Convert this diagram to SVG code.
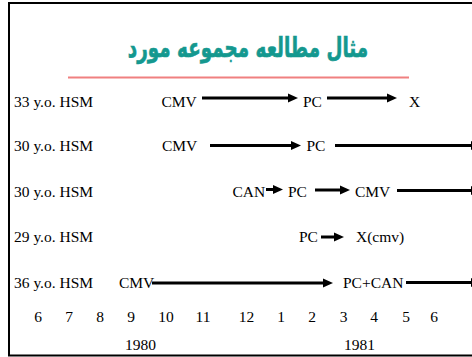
<svg xmlns="http://www.w3.org/2000/svg" width="472" height="357" viewBox="0 0 472 357">
<defs>
<style>
.t{font-family:"Liberation Serif","Times New Roman",serif;font-size:15.5px;fill:#000}
.c{text-anchor:middle}
.ttl{font-family:"DejaVu Sans",sans-serif;font-weight:bold;font-size:27px;fill:#14988f;stroke:#14988f;stroke-width:0.7;text-anchor:middle}
.ar{stroke:#000;stroke-width:3;fill:none;marker-end:url(#ah)}
</style>
<marker id="ah" markerUnits="userSpaceOnUse" markerWidth="10" markerHeight="9" refX="4" refY="4.5" orient="auto" overflow="visible">
<path d="M0,0 L10,4.5 L0,9 Z" fill="#000"/>
</marker>
</defs>
<rect width="472" height="357" fill="#fff"/>
<path d="M472,3 H9 V355.5 H472" fill="none" stroke="#000" stroke-width="2"/>
<g id="title">
<text class="ttl" transform="translate(248,57) scale(0.68,1)" x="0" y="0">مثال مطالعه مجموعه مورد</text>
<line x1="68" y1="77.5" x2="409" y2="77.5" stroke="#f08080" stroke-width="2"/>
</g>
<g id="connectors">
<line class="ar" x1="202" y1="98" x2="292" y2="98"/>
<line class="ar" x1="327" y1="98" x2="391" y2="98"/>
<line class="ar" x1="210" y1="145.5" x2="295" y2="145.5"/>
<line class="ar" x1="335" y1="145.5" x2="475" y2="145.5"/>
<line class="ar" x1="266" y1="189.5" x2="277" y2="189.5"/>
<line class="ar" x1="315" y1="190" x2="344" y2="190"/>
<line class="ar" x1="397" y1="190.5" x2="475" y2="190.5"/>
<line class="ar" x1="321" y1="237" x2="338" y2="237"/>
<line class="ar" x1="152" y1="283" x2="327" y2="283"/>
<line class="ar" x1="406" y1="282.5" x2="475" y2="282.5"/>
</g>
<g id="row1">
<text class="t" x="14" y="106.5">33 y.o. HSM</text>
<text class="t" x="161.5" y="106.5">CMV</text>
<text class="t" x="303" y="106.5">PC</text>
<text class="t" x="409" y="106.5">X</text>
</g>
<g id="row2">
<text class="t" x="14" y="151">30 y.o. HSM</text>
<text class="t" x="162" y="151">CMV</text>
<text class="t" x="306.5" y="151">PC</text>
</g>
<g id="row3">
<text class="t" x="14" y="196.5">30 y.o. HSM</text>
<text class="t" x="232.5" y="196.5">CAN</text>
<text class="t" x="288" y="196.5">PC</text>
<text class="t" x="355" y="196.5">CMV</text>
</g>
<g id="row4">
<text class="t" x="14" y="242">29 y.o. HSM</text>
<text class="t" x="299" y="242">PC</text>
<text class="t" x="356" y="242">X(cmv)</text>
</g>
<g id="row5">
<text class="t" x="14" y="288">36 y.o. HSM</text>
<text class="t" x="119" y="288">CMV</text>
<text class="t" x="343" y="288">PC+CAN</text>
</g>
<g id="axis">
<text class="t c" x="38" y="322">6</text>
<text class="t c" x="69" y="322">7</text>
<text class="t c" x="100" y="322">8</text>
<text class="t c" x="131" y="322">9</text>
<text class="t c" x="166" y="322">10</text>
<text class="t c" x="203" y="322">11</text>
<text class="t c" x="246.5" y="322">12</text>
<text class="t c" x="281" y="322">1</text>
<text class="t c" x="312" y="322">2</text>
<text class="t c" x="343.5" y="322">3</text>
<text class="t c" x="374" y="322">4</text>
<text class="t c" x="406" y="322">5</text>
<text class="t c" x="434" y="322">6</text>
<text class="t c" x="140.5" y="350">1980</text>
<text class="t c" x="359.5" y="350">1981</text>
</g>
</svg>
